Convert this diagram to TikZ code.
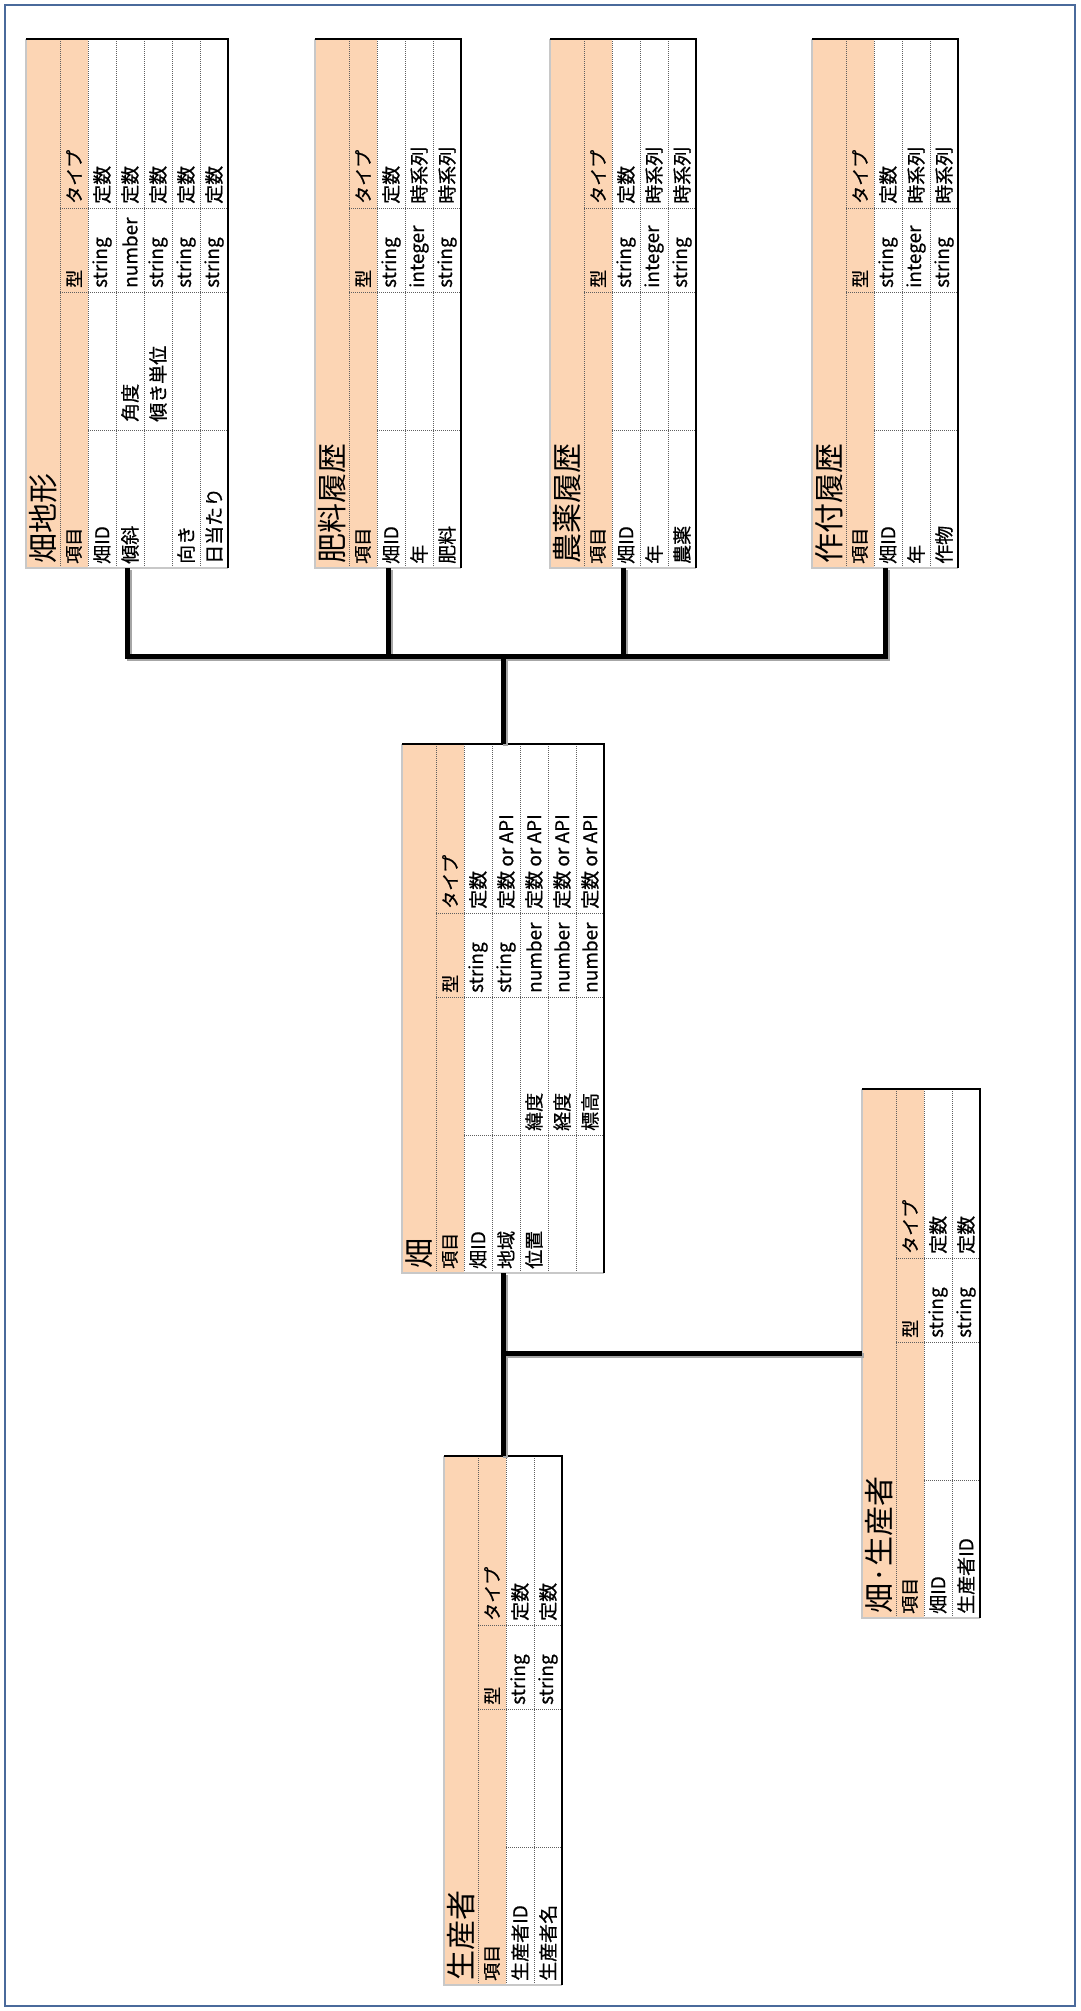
\documentclass[tikz,border=0pt]{standalone}
\usepackage{fontspec}
\setmainfont{Noto Sans CJK JP}
\newfontfamily\cjkb{Noto Sans CJK JP}[FakeBold=0.6]
\usetikzlibrary{calc}
\definecolor{hdr}{RGB}{252,213,180}
\definecolor{framec}{RGB}{74,106,155}
\definecolor{dotc}{RGB}{95,95,95}
\definecolor{edgegray}{RGB}{200,200,200}
\tikzset{
  dotline/.style={draw=dotc, line width=1pt, dash pattern=on 1pt off 1pt},
  titletext/.style={rotate=90, anchor=west, inner sep=0pt, font=\fontsize{30}{30}\selectfont},
  headtext/.style={rotate=90, anchor=west, inner sep=0pt, font=\cjkb\fontsize{18}{18}\selectfont},
  celltext/.style={rotate=90, anchor=west, inner sep=0pt, font=\cjkb\fontsize{19}{19}\selectfont},
  conn/.style={draw=black, line width=5pt, line join=miter},
  connshadow/.style={draw=black!35, line width=5pt, line join=miter},
  tablebox/.style={inner sep=0pt, outer sep=0pt, draw=none},
}
\newcounter{tc}
% table skeleton: name, x0, y0, rows
\newcommand\tabbase[4]{%
  \def\tx{#2}\def\ty{#3}%
  \pgfmathsetmacro\tbW{62+28*#4}%
  \pgfmathsetmacro\tbX{#2+\tbW}%
  \pgfmathsetmacro\tbY{#3+529}%
  \pgfmathtruncatemacro\tbN{#4-1}%
  \fill[hdr] (#2,#3) rectangle ({#2+62},\tbY);
  \fill[white] ({#2+62},#3) rectangle (\tbX,\tbY);
  \draw[dotline] ({#2+34},#3) -- ({#2+34},\tbY);
  \foreach \k in {0,...,\tbN}{\draw[dotline] ({#2+62+28*\k},#3) -- ({#2+62+28*\k},\tbY);}
  \draw[dotline] ({#2+34},{\tbY-360}) -- (\tbX,{\tbY-360});
  \draw[dotline] ({#2+34},{\tbY-276}) -- (\tbX,{\tbY-276});
  \draw[dotline] ({#2+62},{\tbY-138}) -- (\tbX,{\tbY-138});
  \draw[edgegray, line width=1.5pt] (#2,#3) -- (#2,\tbY) -- (\tbX,\tbY);
  \draw[black, line width=1.5pt] (#2,#3) -- (\tbX,#3) -- (\tbX,\tbY);
  \node[tablebox, minimum width=\tbW pt, minimum height=529pt] (#1) at ({#2+\tbW/2},{#3+264.5}) {};
}
\newcommand\tabtitle[1]{%
  \stepcounter{tc}\node[titletext] (txt\arabic{tc}) at ({\tx+17},{\ty+525}) {#1};
  \stepcounter{tc}\node[headtext] (txt\arabic{tc}) at ({\tx+48},{\ty+525}) {項目};
  \stepcounter{tc}\node[headtext] (txt\arabic{tc}) at ({\tx+48},{\ty+249}) {型};
  \stepcounter{tc}\node[headtext] (txt\arabic{tc}) at ({\tx+48},{\ty+165}) {タイプ};
}
\newcommand\tcell[3]{%
  \if\relax\detokenize{#3}\relax\else
  \stepcounter{tc}\node[celltext] (txt\arabic{tc}) at (#1,#2) {#3};\fi}
% row: index, item, sub, type, kind, sub offset
\newcommand\tabrow[6]{%
  \pgfmathsetmacro\rx{\tx+76+28*#1}%
  \tcell{\rx}{\ty+525}{#2}%
  \tcell{\rx}{\ty+391-#6}{#3}%
  \tcell{\rx}{\ty+249}{#4}%
  \tcell{\rx}{\ty+165}{#5}%
}
\begin{document}
\begin{tikzpicture}[x=1pt,y=-1pt]
\useasboundingbox (0,0) rectangle (1080,2011);
\fill[white] (0,0) rectangle (1080,2011);
\draw[framec, line width=2.5pt] (5,5) rectangle (1075,2006);

% 畑地形
\tabbase{t1}{26}{39}{5}
\tabtitle{畑地形}
\tabrow{0}{畑ID}{}{string}{定数}{4}
\tabrow{1}{傾斜}{角度}{number}{定数}{8}
\tabrow{2}{}{傾き単位}{string}{定数}{8}
\tabrow{3}{向き}{}{string}{定数}{4}
\tabrow{4}{日当たり}{}{string}{定数}{4}

% 肥料履歴
\tabbase{t2}{315}{39}{3}
\tabtitle{肥料履歴}
\tabrow{0}{畑ID}{}{string}{定数}{4}
\tabrow{1}{年}{}{integer}{時系列}{4}
\tabrow{2}{肥料}{}{string}{時系列}{4}

% 農薬履歴
\tabbase{t3}{550}{39}{3}
\tabtitle{農薬履歴}
\tabrow{0}{畑ID}{}{string}{定数}{4}
\tabrow{1}{年}{}{integer}{時系列}{4}
\tabrow{2}{農薬}{}{string}{時系列}{4}

% 作付履歴
\tabbase{t4}{812}{39}{3}
\tabtitle{作付履歴}
\tabrow{0}{畑ID}{}{string}{定数}{4}
\tabrow{1}{年}{}{integer}{時系列}{4}
\tabrow{2}{作物}{}{string}{時系列}{4}

% 畑
\tabbase{hatake}{402}{744}{5}
\tabtitle{畑}
\tabrow{0}{畑ID}{}{string}{定数}{4}
\tabrow{1}{地域}{}{string}{定数 or API}{4}
\tabrow{2}{位置}{緯度}{number}{定数 or API}{4}
\tabrow{3}{}{経度}{number}{定数 or API}{4}
\tabrow{4}{}{標高}{number}{定数 or API}{4}

% 畑・生産者
\tabbase{hs}{862}{1089}{2}
\tabtitle{畑·生産者}
\tabrow{0}{畑ID}{}{string}{定数}{4}
\tabrow{1}{生産者ID}{}{string}{定数}{4}

% 生産者
\tabbase{seisan}{444}{1456}{2}
\tabtitle{生産者}
\tabrow{0}{生産者ID}{}{string}{定数}{4}
\tabrow{1}{生産者名}{}{string}{定数}{4}

% connectors
\coordinate (bus) at ($(hatake.north)+(0,-88)$);
\begin{scope}[transform canvas={shift={(2pt,-2pt)}}]
  \draw[connshadow] (t1.south) |- (bus) -| (t4.south);
  \draw[connshadow] (t2.south) -- (t2.south |- bus);
  \draw[connshadow] (t3.south) -- (t3.south |- bus);
  \draw[connshadow] (hatake.north) -- (bus);
  \draw[connshadow] (hatake.south) -- (seisan.north);
  \draw[connshadow] (hatake.south |- hs.west) -- (hs.west);
\end{scope}
\draw[conn] (t1.south) |- (bus) -| (t4.south);
\draw[conn] (t2.south) -- (t2.south |- bus);
\draw[conn] (t3.south) -- (t3.south |- bus);
\draw[conn] (hatake.north) -- (bus);
\draw[conn] (hatake.south) -- (seisan.north);
\draw[conn] (hatake.south |- hs.west) -- (hs.west);
\end{tikzpicture}
\end{document}
